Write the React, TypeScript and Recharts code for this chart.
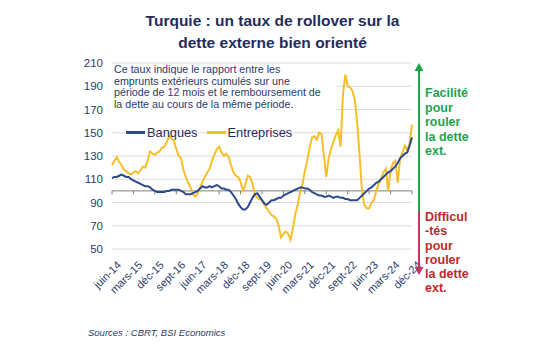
import { CartesianGrid, Line, LineChart, ReferenceLine, XAxis, YAxis } from "recharts"

// monthly, juin-14 .. déc-24
const monthNames = ["janv", "févr", "mars", "avr", "mai", "juin", "juil", "août", "sept", "oct", "nov", "déc"]
const months: string[] = []
for (let y = 2014; y <= 2024; y++) {
  for (let m = 0; m < 12; m++) {
    if (y === 2014 && m < 5) continue
    months.push(`${monthNames[m]}-${String(y).slice(2)}`)
  }
}

const banques = [
  111, 112, 112, 113, 114, 113, 112, 112, 110, 109,
  108, 107, 106, 105, 104, 104, 103, 101, 100, 99,
  99, 99, 99, 100, 100, 101, 101, 101, 101, 100,
  99, 97, 97, 97, 98, 99, 100, 102, 104, 103,
  103, 104, 103, 104, 105, 104, 102, 102, 101, 101,
  99, 96, 93, 89, 86, 84, 84, 86, 90, 94,
  97, 98, 95, 92, 89, 88, 90, 92, 92, 93,
  94, 94, 96, 97, 98, 99, 100, 101, 102, 103,
  103, 102, 102, 101, 99, 98, 97, 96, 96, 95,
  95, 96, 95, 94, 95, 95, 94, 94, 93, 93,
  92, 92, 92, 92, 94, 96, 98, 100, 102, 103,
  105, 107, 108, 110, 112, 114, 116, 117, 119, 121,
  124, 128, 130, 132, 133, 139, 146,
]

const entreprises = [
  122, 126, 129, 125, 122, 118, 117, 115, 114, 116,
  117, 115, 118, 121, 120, 126, 134, 132, 131, 133,
  134, 137, 138, 142, 147, 145, 143, 136, 130, 128,
  118, 112, 107, 103, 97, 95, 98, 103, 108, 112,
  116, 119, 126, 131, 136, 138, 133, 130, 132, 129,
  122, 116, 113, 112, 108, 100, 105, 113, 112, 106,
  97, 94, 93, 92, 88, 85, 82, 79, 78, 76,
  70, 60, 63, 65, 63, 58, 68, 80, 88, 99,
  106, 117, 126, 137, 146, 147, 144, 150, 149, 130,
  112, 128, 136, 142, 148, 152, 138, 183, 200, 190,
  189, 186, 178, 158, 130, 100, 88, 85, 85, 90,
  92, 100, 106, 110, 116, 119, 100, 118, 124, 126,
  107, 128, 133, 139, 135, 141, 157,
]

const yTicks = [50, 70, 90, 110, 130, 150, 170, 190, 210]

const data = months.map((m, i) => ({ month: m, banques: banques[i], entreprises: entreprises[i] }))
const tickMonths = months.filter((_, i) => i % 9 === 0)

const NAVY = "#2b3a6b"
const BLUE = "#2d4a8c"
const GOLD = "#f6bf2a"
const FONT = "'Liberation Sans', Arial, sans-serif"

const XTick = ({ x, y, payload }: any) => (
  <g transform={`translate(${x + 7},${y + 6})`}>
    <text x={0} y={0} dy="0.35em" textAnchor="end" transform="rotate(-45)" fontSize={11} fill={NAVY} fontFamily={FONT}>
      {payload.value}
    </text>
  </g>
)

export default function App() {
  return (
    <div style={{ position: "absolute", top: 0, left: 0, width: 550, height: 358, background: "#fff", fontFamily: FONT }}>
      <div style={{ position: "absolute", top: 10, left: 0, width: 545, textAlign: "center", color: "#1f2d5c", fontWeight: "bold", fontSize: 15.5, lineHeight: "22px" }}>
        Turquie : un taux de rollover sur la
        <br />
        dette externe bien orienté
      </div>
      <LineChart width={550} height={358} data={data} margin={{ top: 63, right: 138, bottom: 79, left: 0 }} style={{ position: "absolute", top: 0, left: 0 }}>
        <CartesianGrid vertical={false} stroke="#dcdcdc" />
        <XAxis dataKey="month" interval={8} tick={<XTick />} axisLine={false} tickLine={false} />
        <YAxis
          width={112}
          domain={[50, 210]}
          ticks={yTicks}
          axisLine={false}
          tickLine={false}
          tickSize={0}
          tickMargin={9}
          tick={{ fontSize: 11.5, fill: NAVY, fontFamily: FONT }}
        />
        <ReferenceLine y={100} stroke="#7f7f7f" strokeWidth={1} />
        {tickMonths.map((m) => (
          <ReferenceLine key={m} segment={[{ x: m, y: 100 }, { x: m, y: 97 }]} stroke="#7f7f7f" />
        ))}
        <Line dataKey="entreprises" stroke={GOLD} strokeWidth={2} dot={false} isAnimationActive={false} />
        <Line dataKey="banques" stroke={BLUE} strokeWidth={2} dot={false} isAnimationActive={false} />
      </LineChart>
      <div style={{ position: "absolute", top: 64, left: 112, width: 222, padding: "0 0 2px 2px", background: "#fff", color: NAVY, fontSize: 10.7, lineHeight: "11.6px" }}>
        Ce taux indique le rapport entre les
        <br />
        emprunts extérieurs cumulés sur une
        <br />
        période de 12 mois et le remboursement de
        <br />
        la dette au cours de la même période.
      </div>
      <div style={{ position: "absolute", top: 125, left: 126, display: "flex", alignItems: "center", fontSize: 12.8, color: "#1f2d5c" }}>
        <span style={{ display: "inline-block", width: 19, height: 2.5, background: BLUE, marginRight: 2 }} />
        <span style={{ marginRight: 9 }}>Banques</span>
        <span style={{ display: "inline-block", width: 19, height: 2.5, background: GOLD, marginRight: 2 }} />
        <span>Entreprises</span>
      </div>
      <svg width={550} height={358} style={{ position: "absolute", top: 0, left: 0, pointerEvents: "none" }}>
        <line x1={419} y1={70} x2={419} y2={211} stroke="#1ea34f" strokeWidth={2} />
        <polygon points="414.5,71 423.5,71 419,63" fill="#1ea34f" />
        <line x1={419} y1={211} x2={419} y2={268} stroke="#c4375e" strokeWidth={2} />
        <polygon points="414.5,267 423.5,267 419,275" fill="#c4375e" />
      </svg>
      <div style={{ position: "absolute", top: 86, left: 425, color: "#1ea34f", fontWeight: "bold", fontSize: 12.5, lineHeight: "14.5px" }}>
        Facilité
        <br />
        pour
        <br />
        rouler
        <br />
        la dette
        <br />
        ext.
      </div>
      <div style={{ position: "absolute", top: 210, left: 425, color: "#c0282e", fontWeight: "bold", fontSize: 12.5, lineHeight: "14.3px" }}>
        Difficul
        <br />
        -tés
        <br />
        pour
        <br />
        rouler
        <br />
        la dette
        <br />
        ext.
      </div>
      <div style={{ position: "absolute", top: 327, left: 88, fontStyle: "italic", fontSize: 9.5, color: NAVY }}>
        Sources : CBRT, BSI Economics
      </div>
    </div>
  )
}
